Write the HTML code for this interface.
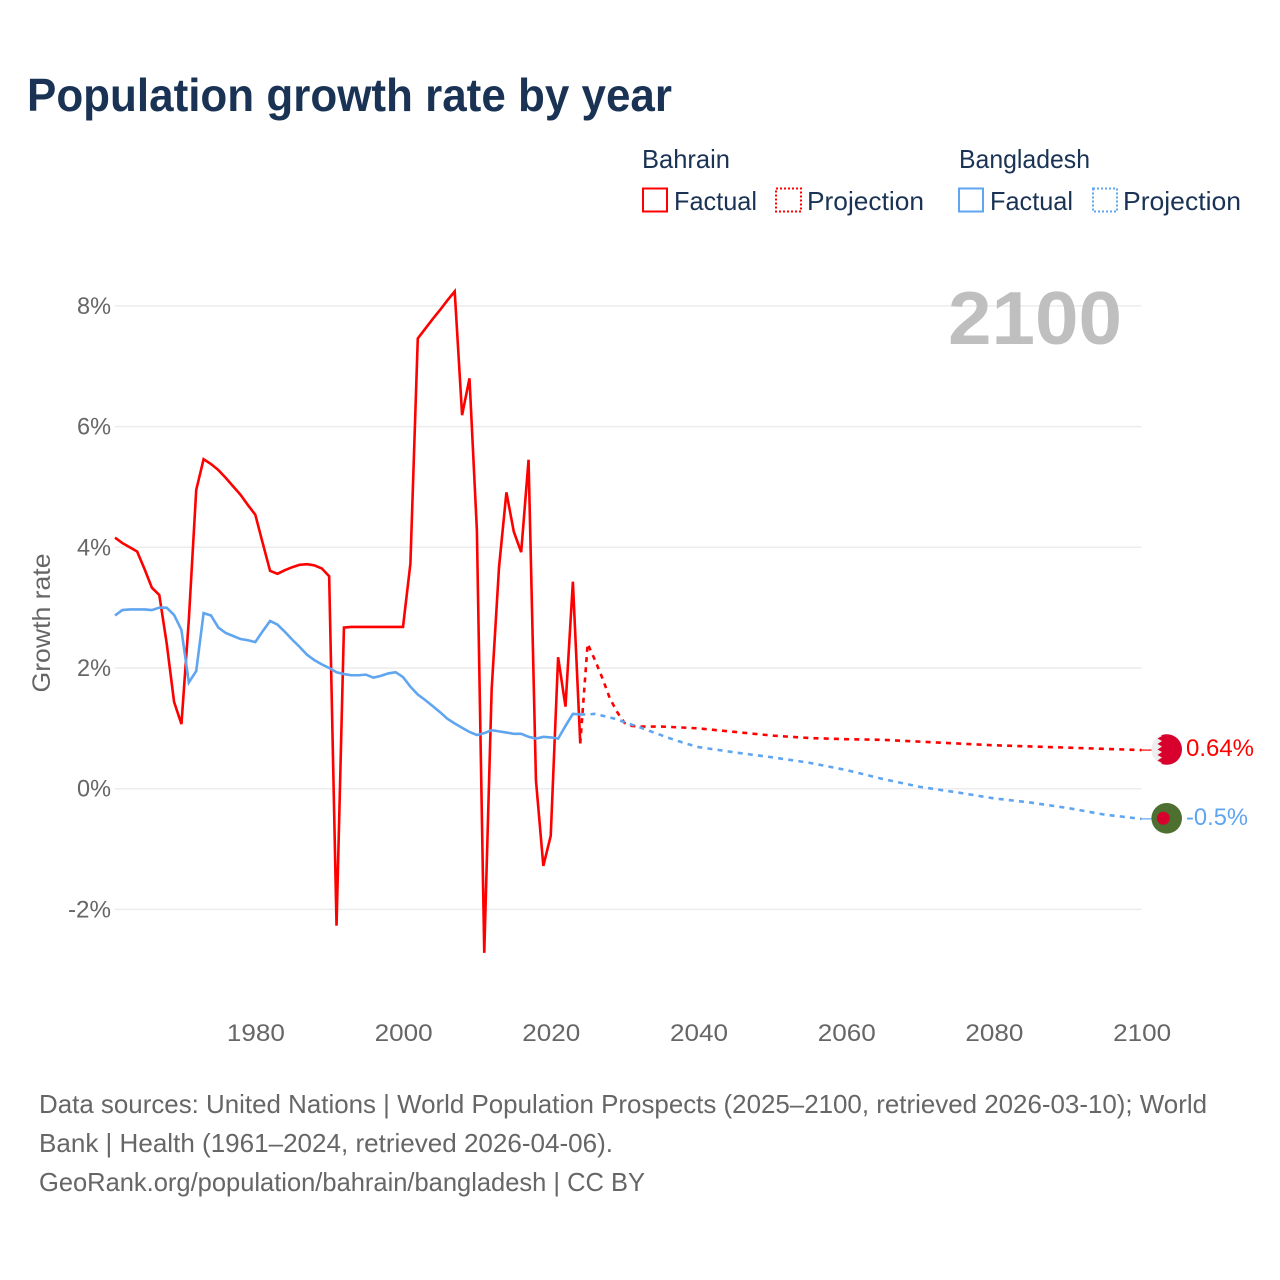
<!DOCTYPE html>
<html lang="en">
<head>
<meta charset="utf-8">
<title>Population growth rate by year</title>
<style>
html,body{margin:0;padding:0;background:#fff;}
svg{display:block;font-family:"Liberation Sans",sans-serif;}
</style>
</head>
<body>
<svg id="chart" xmlns="http://www.w3.org/2000/svg" width="1280" height="1280" viewBox="0 0 1280 1280">
  <rect x="0" y="0" width="1280" height="1280" fill="#ffffff"/>
  <text x="27" y="111" font-size="46" font-weight="700" fill="#1a3355" textLength="645" lengthAdjust="spacingAndGlyphs">Population growth rate by year</text>

  <g font-size="26" fill="#1a3355">
    <text x="642" y="168" textLength="88" lengthAdjust="spacingAndGlyphs">Bahrain</text>
    <text x="959" y="168" textLength="131" lengthAdjust="spacingAndGlyphs">Bangladesh</text>
    <rect x="643" y="188.5" width="24" height="23" fill="none" stroke="#ff0000" stroke-width="2"/>
    <text x="674" y="210" textLength="83" lengthAdjust="spacingAndGlyphs">Factual</text>
    <rect x="776" y="188.5" width="25" height="23" fill="none" stroke="#ff0000" stroke-width="2" stroke-dasharray="2 2"/>
    <text x="807" y="210" textLength="117" lengthAdjust="spacingAndGlyphs">Projection</text>
    <rect x="959" y="188.5" width="24" height="23" fill="none" stroke="#5fa5ef" stroke-width="2"/>
    <text x="990" y="210" textLength="83" lengthAdjust="spacingAndGlyphs">Factual</text>
    <rect x="1093" y="188.5" width="24" height="23" fill="none" stroke="#5fa5ef" stroke-width="2" stroke-dasharray="2 2"/>
    <text x="1123" y="210" textLength="118" lengthAdjust="spacingAndGlyphs">Projection</text>
  </g>

  <g id="grid"></g>
  <g id="yticks" font-size="24" fill="#666666" text-anchor="end"></g>
  <g id="xticks" font-size="24" fill="#666666" text-anchor="middle"></g>
  <text transform="translate(50,623) rotate(-90)" font-size="25" fill="#666666" text-anchor="middle" textLength="139" lengthAdjust="spacingAndGlyphs">Growth rate</text>
  <text x="948" y="344" font-size="75" font-weight="700" fill="#bfbfbf" textLength="174" lengthAdjust="spacingAndGlyphs">2100</text>

  <g id="series"></g>

  <defs>
    <clipPath id="flag-clip-bh"><circle cx="1166.7" cy="749.5" r="15.3"/></clipPath>
    <clipPath id="flag-clip-bd"><circle cx="1166.7" cy="818.3" r="15.3"/></clipPath>
  </defs>
  <g clip-path="url(#flag-clip-bh)">
    <rect x="1150" y="733" width="34" height="33" fill="#eeeeee"/>
    <polygon fill="#d8002c" points="1184,733 1159,733 1162,736 1157.5,738.5 1162,741 1157.5,744 1162,746.5 1157.5,749.5 1162,752 1157.5,755 1162,757.5 1157.5,760.5 1162,763 1159,766 1184,766"/>
  </g>
  <g clip-path="url(#flag-clip-bd)">
    <rect x="1150" y="802" width="34" height="33" fill="#4d6f2f"/>
    <circle cx="1163.3" cy="818.3" r="6.5" fill="#d8002c"/>
  </g>
  <text x="1186" y="756" font-size="24" fill="#ff0000" textLength="68" lengthAdjust="spacingAndGlyphs">0.64%</text>
  <text x="1186" y="825" font-size="24" fill="#5fa5ef" textLength="62" lengthAdjust="spacingAndGlyphs">-0.5%</text>

  <g font-size="26" fill="#666666">
    <text x="39" y="1113" textLength="1168" lengthAdjust="spacingAndGlyphs">Data sources: United Nations | World Population Prospects (2025–2100, retrieved 2026-03-10); World</text>
    <text x="39" y="1152" textLength="574" lengthAdjust="spacingAndGlyphs">Bank | Health (1961–2024, retrieved 2026-04-06).</text>
    <text x="39" y="1191" textLength="606" lengthAdjust="spacingAndGlyphs">GeoRank.org/population/bahrain/bangladesh | CC BY</text>
  </g>
</svg>
<script>
const xTickYears = [1980, 2000, 2020, 2040, 2060, 2080, 2100];
const yTickValues = [8, 6, 4, 2, 0, -2];
const factualStartYear = 1961;
const bahrainFactual = [
  4.16,4.07,4.00,3.93,3.64,3.33,3.21,2.41,1.44,1.07,
  2.80,4.95,5.46,5.38,5.28,5.15,5.01,4.87,4.70,4.54,
  4.07,3.61,3.56,3.62,3.67,3.71,3.72,3.70,3.65,3.52,
  -2.27,2.67,2.68,2.68,2.68,2.68,2.68,2.68,2.68,2.68,
  3.73,7.46,7.62,7.78,7.93,8.09,8.24,6.19,6.80,4.29,
  -2.72,1.64,3.67,4.91,4.26,3.92,5.45,0.14,-1.28,-0.78,
  2.18,1.36,3.43,0.75
];
const bangladeshFactual = [
  2.87,2.96,2.97,2.97,2.97,2.96,3.00,3.00,2.88,2.63,
  1.76,1.95,2.91,2.87,2.67,2.58,2.53,2.48,2.46,2.43,
  2.61,2.78,2.72,2.60,2.47,2.35,2.22,2.13,2.06,2.00,
  1.93,1.90,1.88,1.88,1.89,1.84,1.87,1.91,1.93,1.85,
  1.69,1.56,1.47,1.37,1.27,1.16,1.08,1.01,0.94,0.89,
  0.92,0.97,0.95,0.93,0.91,0.91,0.86,0.83,0.86,0.85,
  0.83,1.04,1.24,1.23
];
const bahrainProjectionYears = [2024,2025,2026,2027,2028,2029,2030,2031,2032,2035,2040,2045,2050,2055,2060,2065,2070,2075,2080,2085,2090,2095,2100];
const bahrainProjection = [0.75,2.40,2.13,1.83,1.50,1.27,1.09,1.04,1.03,1.03,1.00,0.94,0.88,0.84,0.82,0.81,0.78,0.75,0.72,0.70,0.68,0.66,0.64];
const bangladeshProjectionYears = [2024,2025,2026,2027,2028,2029,2030,2032,2034,2036,2038,2040,2045,2050,2055,2060,2065,2070,2075,2080,2085,2090,2095,2100];
const bangladeshProjection = [1.23,1.23,1.24,1.21,1.18,1.15,1.10,1.02,0.93,0.84,0.76,0.69,0.60,0.52,0.43,0.31,0.16,0.03,-0.06,-0.16,-0.23,-0.32,-0.43,-0.50];

const SVG_NS = 'http://www.w3.org/2000/svg';
function xScale(year) { return 255.3 + (year - 1980) * 7.3855; }
function yScale(value) { return 788.7 - value * 60.35; }
function pathFrom(years, values) {
  return values.map(function (v, i) {
    return (i ? 'L' : 'M') + xScale(years[i]).toFixed(2) + ' ' + yScale(v).toFixed(2);
  }).join(' ');
}
const gridLayer = document.getElementById('grid');
const yTickLayer = document.getElementById('yticks');
const xTickLayer = document.getElementById('xticks');
const seriesLayer = document.getElementById('series');

yTickValues.forEach(function (v) {
  const line = document.createElementNS(SVG_NS, 'line');
  
  
  line.setAttribute('x1', xScale(1961));
  line.setAttribute('x2', xScale(2100));
  line.setAttribute('y1', yScale(v));
  line.setAttribute('y2', yScale(v));
  line.setAttribute('stroke', '#ececec');
  line.setAttribute('stroke-width', '1.5');
  gridLayer.appendChild(line);

  const label = document.createElementNS(SVG_NS, 'text');
  
  
  label.setAttribute('x', 111);
  label.setAttribute('y', yScale(v) + 8);
  label.setAttribute('textLength', v < 0 ? 43 : 34);
  label.setAttribute('lengthAdjust', 'spacingAndGlyphs');
  label.textContent = v + '%';
  yTickLayer.appendChild(label);
});

xTickYears.forEach(function (year) {
  const label = document.createElementNS(SVG_NS, 'text');
  
  
  label.setAttribute('x', xScale(year) + 0.6);
  label.setAttribute('y', 1041);
  label.setAttribute('textLength', 58);
  label.setAttribute('lengthAdjust', 'spacingAndGlyphs');
  label.textContent = String(year);
  xTickLayer.appendChild(label);
});

function yearsFor(values) {
  return values.map(function (_, i) { return factualStartYear + i; });
}
function addLine(d, colour, dashed) {
  const path = document.createElementNS(SVG_NS, 'path');
  path.setAttribute('d', d);
  path.setAttribute('fill', 'none');
  path.setAttribute('stroke', colour);
  path.setAttribute('stroke-width', dashed ? '2.6' : '2.6');
  path.setAttribute('stroke-linejoin', 'miter');
  path.setAttribute('stroke-miterlimit', '4');
  if (dashed) path.setAttribute('stroke-dasharray', '5 5.2');
  seriesLayer.appendChild(path);
  return path;
}
const bahrainFactualLine = addLine(pathFrom(yearsFor(bahrainFactual), bahrainFactual), '#ff0000', false);


const bangladeshFactualLine = addLine(pathFrom(yearsFor(bangladeshFactual), bangladeshFactual), '#5fa5ef', false);


const bahrainProjectionLine = addLine(pathFrom(bahrainProjectionYears, bahrainProjection), '#ff0000', true);


const bangladeshProjectionLine = addLine(pathFrom(bangladeshProjectionYears, bangladeshProjection), '#5fa5ef', true);



function addConnector(value, colour) {
  const line = document.createElementNS(SVG_NS, 'line');
  line.setAttribute('x1', xScale(2100));
  line.setAttribute('x2', 1152);
  line.setAttribute('y1', yScale(value));
  line.setAttribute('y2', yScale(value));
  line.setAttribute('stroke', colour);
  line.setAttribute('stroke-width', '1.2');
  seriesLayer.appendChild(line);
  return line;
}
const bahrainConnector = addConnector(bahrainProjection[bahrainProjection.length - 1], '#ff0000');


const bangladeshConnector = addConnector(bangladeshProjection[bangladeshProjection.length - 1], '#5fa5ef');


</script>
</body>
</html>
